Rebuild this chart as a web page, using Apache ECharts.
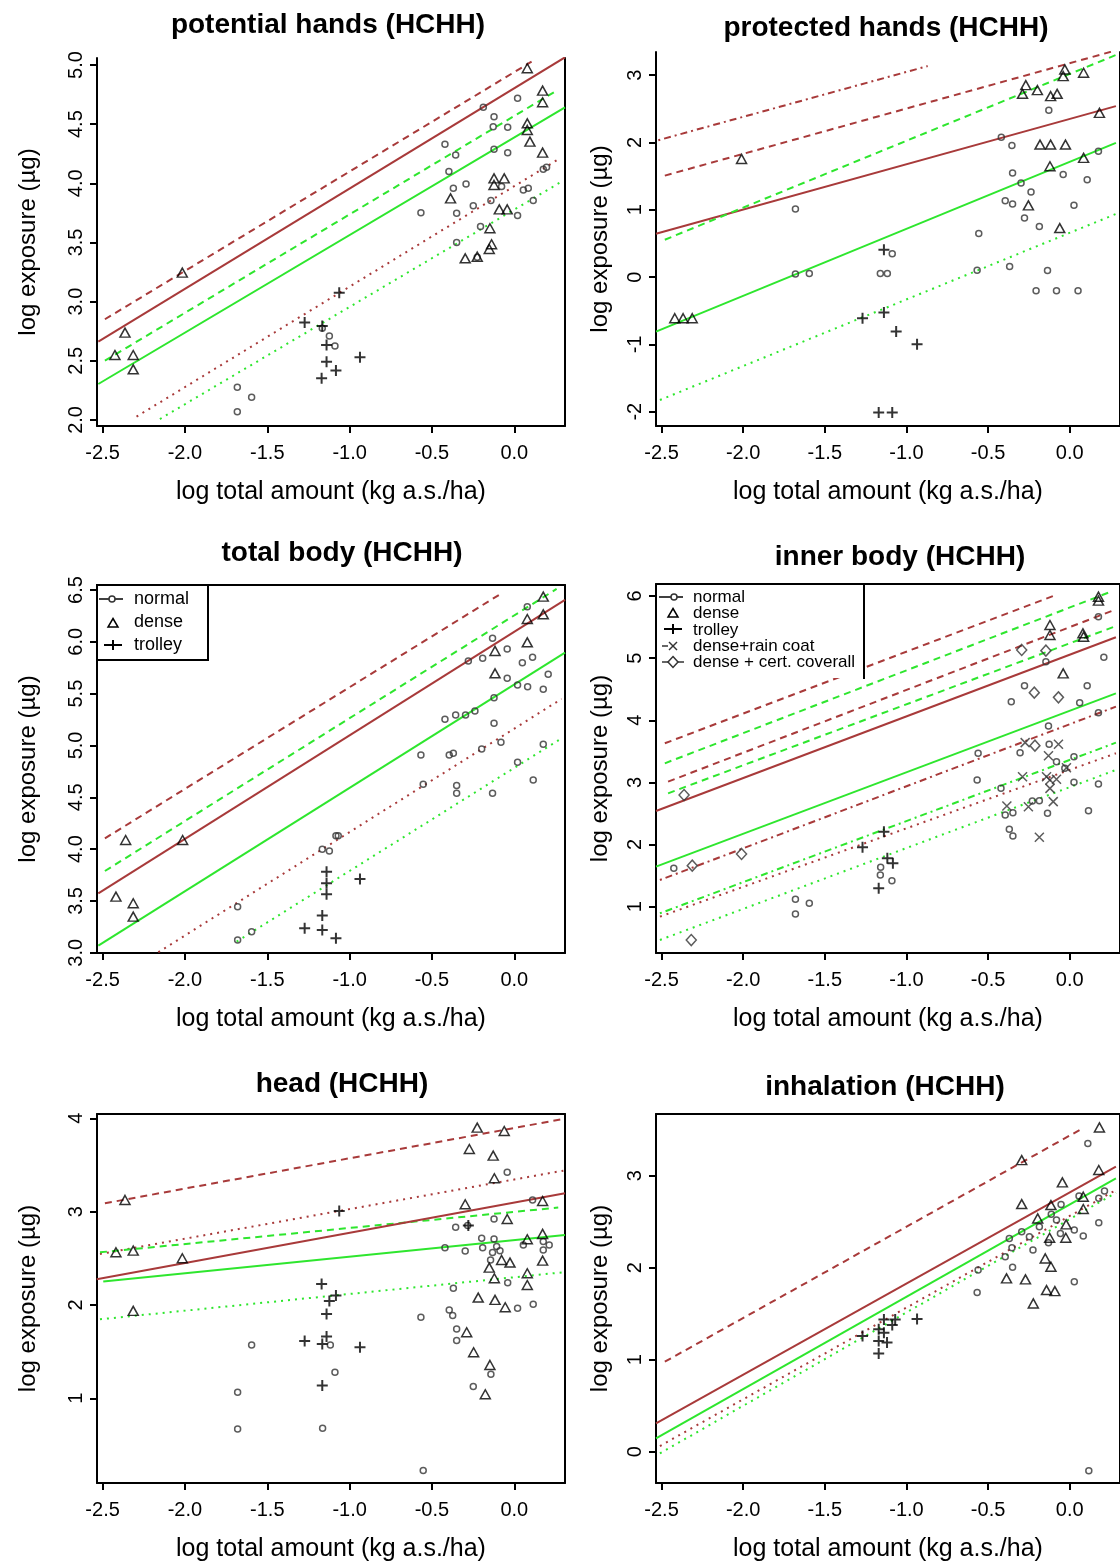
<!DOCTYPE html>
<html><head><meta charset="utf-8">
<script src="https://cdn.jsdelivr.net/npm/echarts@6/dist/echarts.min.js"></script>
<style>html,body{margin:0;padding:0;background:#fff}#c{width:1120px;height:1565px}</style>
</head><body><div id="c"></div><script>
// ---------- tick labels ----------
const xTicks = [-2.5, -2.0, -1.5, -1.0, -0.5, 0.0];
const potentialTicks = [2.0, 2.5, 3.0, 3.5, 4.0, 4.5, 5.0];
const protectedTicks = [-2, -1, 0, 1, 2, 3];
const totalTicks = [3.0, 3.5, 4.0, 4.5, 5.0, 5.5, 6.0, 6.5];
const innerTicks = [1, 2, 3, 4, 5, 6];
const headTicks = [1, 2, 3, 4];
const inhalTicks = [0, 1, 2, 3];

// ---------- potential hands ----------
const potentialNormal = [[-0.188,4.642],[-0.123,4.563],[0.020,4.718],[-0.128,4.479],[-0.040,4.473],[-0.421,4.330],[-0.356,4.239],[-0.123,4.287],[-0.040,4.259],[-0.397,4.099],[-0.370,3.958],[-0.293,3.994],[-0.077,3.972],[0.196,4.135],[0.176,4.118],[0.055,3.944],[0.085,3.958],[0.115,3.854],[-0.142,3.854],[-0.249,3.811],[-0.567,3.752],[-0.350,3.746],[0.020,3.727],[-0.205,3.634],[-0.350,3.499],[-0.225,3.375],[-1.682,2.276],[-1.595,2.192],[-1.682,2.070],[-1.123,2.710],[-1.089,2.625],[-1.166,2.775]];
const potentialDense = [[-2.016,3.245],[-2.364,2.738],[-2.425,2.549],[-2.314,2.549],[-2.314,2.428],[0.079,4.972],[0.172,4.783],[0.172,4.685],[0.079,4.507],[0.079,4.451],[0.095,4.352],[0.172,4.259],[-0.123,4.042],[-0.061,4.042],[-0.123,3.986],[-0.387,3.873],[-0.091,3.780],[-0.043,3.780],[-0.148,3.620],[-0.152,3.445],[-0.298,3.366],[-0.225,3.380],[-0.138,3.485]];
const potentialTrolley = [[-1.063,3.076],[-1.273,2.823],[-1.166,2.794],[-1.140,2.634],[-1.140,2.493],[-1.083,2.417],[-1.170,2.352],[-0.937,2.530]];
const potentialBrownFit = [[-2.526,2.662],[0.308,5.065]];
const potentialBrownUpper = [[-2.486,2.851],[0.105,5.028]];
const potentialBrownLower = [[-2.294,2.028],[0.277,4.211]];
const potentialGreenFit = [[-2.526,2.304],[0.308,4.642]];
const potentialGreenUpper = [[-2.486,2.501],[0.257,4.783]];
const potentialGreenLower = [[-2.152,2.008],[0.287,4.014]];

// ---------- protected hands ----------
const protectedNormal = [[-0.128,2.479],[-0.354,1.953],[-0.419,2.077],[-0.350,1.547],[0.176,1.869],[-0.040,1.522],[0.107,1.447],[-0.298,1.398],[-0.237,1.264],[-0.395,1.135],[-0.350,1.085],[0.026,1.065],[-0.277,0.877],[-0.186,0.753],[-0.557,0.649],[-0.567,0.103],[-0.368,0.158],[-0.136,0.098],[-0.206,-0.204],[-0.081,-0.204],[0.051,-0.204],[-1.680,1.011],[-1.680,0.044],[-1.595,0.054],[-1.160,0.054],[-1.117,0.054],[-1.087,0.346]];
const protectedDense = [[-2.419,-0.611],[-2.368,-0.611],[-2.312,-0.611],[-2.010,1.755],[-0.269,2.851],[-0.289,2.722],[-0.198,2.777],[-0.117,2.688],[-0.077,2.722],[-0.040,2.985],[-0.030,3.084],[0.085,3.035],[0.182,2.439],[-0.182,1.968],[-0.117,1.968],[-0.026,1.968],[-0.121,1.646],[0.085,1.770],[-0.061,0.728],[-0.253,1.065]];
const protectedTrolley = [[-1.138,0.406],[-1.269,-0.611],[-1.138,-0.527],[-1.063,-0.810],[-0.935,-0.998],[-1.170,-2.010],[-1.087,-2.010]];
const protectedBrownTop = [[-2.520,2.033],[-0.870,3.134]];
const protectedBrownUpper = [[-2.480,1.507],[0.283,3.367]];
const protectedBrownFit = [[-2.534,0.644],[0.283,2.539]];
const protectedGreenUpper = [[-2.480,0.555],[0.283,3.298]];
const protectedGreenFit = [[-2.534,-0.810],[0.283,1.993]];
const protectedGreenLower = [[-2.510,-1.826],[0.283,0.937]];

// ---------- total body ----------
const totalNormal = [[0.079,6.339],[-0.132,6.034],[-0.043,5.931],[-0.279,5.815],[-0.192,5.841],[0.049,5.799],[0.111,5.850],[-0.043,5.648],[0.020,5.584],[0.081,5.567],[0.176,5.542],[0.206,5.687],[-0.123,5.461],[-0.421,5.252],[-0.356,5.294],[-0.296,5.294],[-0.239,5.333],[-0.123,5.214],[-0.081,5.031],[-0.198,4.966],[-0.567,4.908],[-0.395,4.908],[-0.370,4.924],[0.176,5.011],[0.020,4.838],[-0.553,4.625],[-0.350,4.613],[-0.350,4.539],[-0.132,4.539],[0.115,4.667],[-1.680,3.445],[-1.595,3.204],[-1.680,3.124],[-1.069,4.130],[-1.083,4.130],[-1.166,3.998],[-1.123,3.982]];
const totalDense = [[-2.360,4.088],[-2.014,4.088],[-2.419,3.542],[-2.314,3.478],[-2.314,3.349],[0.176,6.436],[0.079,6.220],[0.176,6.265],[0.079,5.995],[-0.117,5.912],[-0.117,5.696]];
const totalTrolley = [[-1.140,3.783],[-1.140,3.670],[-1.140,3.564],[-0.937,3.712],[-1.166,3.359],[-1.273,3.236],[-1.166,3.220],[-1.083,3.140]];
const totalBrownUpper = [[-2.486,4.104],[-0.087,6.458]];
const totalGreenUpper = [[-2.486,3.789],[0.257,6.510]];
const totalBrownFit = [[-2.526,3.574],[0.308,6.404]];
const totalGreenFit = [[-2.526,3.069],[0.308,5.895]];
const totalBrownLower = [[-2.162,3.005],[0.287,5.449]];
const totalGreenLower = [[-1.686,3.108],[0.287,5.069]];

// ---------- inner body ----------
const innerNormal = [[0.176,5.667],[0.209,5.013],[-0.146,4.943],[-0.277,4.557],[-0.358,4.299],[0.107,4.557],[0.061,4.283],[0.176,4.122],[-0.130,3.908],[-0.126,3.613],[-0.304,3.479],[-0.561,3.468],[-0.081,3.334],[-0.030,3.226],[0.026,3.414],[-0.567,3.039],[0.026,3.001],[0.176,2.974],[-0.421,2.904],[-0.229,2.701],[-0.186,2.706],[-0.348,2.513],[-0.395,2.475],[-0.136,2.502],[0.115,2.545],[-0.370,2.245],[-0.348,2.137],[-2.425,1.617],[-1.680,1.118],[-1.595,1.054],[-1.680,0.882],[-1.158,1.633],[-1.160,1.510],[-1.089,1.418]];
const innerDense = [[0.176,5.989],[0.176,5.925],[-0.121,5.533],[-0.121,5.372],[0.081,5.399],[0.085,5.345],[-0.040,4.755]];
const innerTrolley = [[-1.138,2.207],[-1.269,1.955],[-1.117,1.778],[-1.083,1.697],[-1.170,1.295]];
const innerRainCoat = [[-0.273,3.640],[-0.069,3.613],[-0.130,3.430],[-0.289,3.092],[-0.142,3.092],[-0.121,3.039],[-0.081,3.049],[-0.020,3.237],[-0.121,2.904],[-0.385,2.620],[-0.253,2.609],[-0.101,2.690],[-0.186,2.116]];
const innerCoverall = [[-0.294,5.131],[-0.146,5.120],[-0.217,4.444],[-0.069,4.369],[-0.213,3.591],[-2.362,2.797],[-2.010,1.848],[-2.318,0.463],[-2.312,1.660]];
const innerBrownTop = [[-2.480,3.629],[-0.101,6.000]];
const innerGreenTop = [[-2.480,3.307],[0.253,6.070]];
const innerBrownUpper = [[-2.460,3.012],[0.273,5.775]];
const innerGreenUpper = [[-2.460,2.824],[0.273,5.506]];
const innerBrownFit = [[-2.534,2.540],[0.283,5.335]];
const innerGreenFit = [[-2.534,1.644],[0.283,4.433]];
const innerBrownLower = [[-2.510,1.429],[0.283,4.219]];
const innerGreenLower = [[-2.510,0.893],[0.283,3.639]];
const innerBrownBottom = [[-2.510,0.839],[0.283,3.468]];
const innerGreenBottom = [[-2.510,0.464],[0.283,3.200]];

// ---------- head ----------
const headNormal = [[-0.043,3.421],[0.111,3.125],[-0.123,2.921],[-0.356,2.832],[-0.283,2.850],[-0.198,2.714],[-0.123,2.707],[-0.107,2.625],[-0.087,2.582],[-0.298,2.579],[-0.421,2.614],[-0.192,2.614],[0.055,2.643],[0.176,2.679],[0.212,2.643],[0.176,2.589],[-0.132,2.561],[-0.040,2.239],[-0.370,2.179],[0.020,1.964],[0.115,2.007],[-0.567,1.868],[-0.395,1.946],[-0.374,1.886],[-0.350,1.743],[-0.350,1.618],[-0.142,1.257],[-0.249,1.125],[-1.595,1.571],[-1.117,1.571],[-1.089,1.279],[-1.680,1.064],[-1.680,0.671],[-1.164,0.679],[-0.553,0.225],[-0.144,2.482]];
const headDense = [[-2.364,3.125],[-2.419,2.564],[-2.314,2.582],[-2.016,2.500],[-2.314,1.936],[-0.225,3.900],[-0.061,3.864],[-0.273,3.671],[-0.128,3.600],[-0.121,3.357],[-0.298,3.079],[0.172,3.114],[-0.043,2.921],[0.079,2.704],[0.172,2.761],[-0.077,2.482],[-0.026,2.454],[0.172,2.475],[-0.152,2.400],[-0.121,2.286],[0.079,2.339],[0.079,2.214],[-0.219,2.079],[-0.117,2.054],[-0.055,1.975],[-0.289,1.707],[-0.247,1.493],[-0.148,1.357],[-0.176,1.043]];
const headTrolley = [[-1.063,3.007],[-1.170,2.225],[-1.083,2.100],[-1.123,2.043],[-1.140,1.904],[-1.140,1.661],[-1.273,1.614],[-1.166,1.582],[-0.937,1.546],[-1.166,1.136],[-0.279,2.850]];
const headBrownUpper = [[-2.486,3.089],[0.298,3.993]];
const headBrownMid = [[-2.516,2.546],[0.298,3.439]];
const headGreenUpper = [[-2.516,2.564],[0.267,3.043]];
const headBrownFit = [[-2.536,2.275],[0.308,3.196]];
const headGreenFit = [[-2.496,2.250],[0.308,2.750]];
const headGreenLower = [[-2.516,1.846],[0.298,2.350]];

// ---------- inhalation ----------
const inhalNormal = [[0.111,3.351],[0.178,2.754],[0.057,2.779],[-0.053,2.688],[0.213,2.833],[-0.113,2.580],[-0.081,2.518],[-0.186,2.446],[-0.247,2.337],[-0.294,2.391],[-0.370,2.319],[-0.354,2.217],[-0.225,2.192],[-0.395,2.120],[-0.350,2.004],[-0.561,1.975],[-0.567,1.732],[0.083,2.344],[0.028,2.409],[0.028,1.848],[0.178,2.489],[0.117,-0.207],[-0.130,2.272],[-0.057,2.373]];
const inhalDense = [[0.182,3.525],[-0.294,3.170],[0.178,3.062],[-0.045,2.928],[-0.294,2.692],[0.083,2.772],[-0.115,2.681],[-0.196,2.536],[-0.022,2.471],[-0.123,2.326],[-0.024,2.326],[-0.115,2.011],[-0.387,1.884],[-0.271,1.873],[-0.142,1.757],[-0.091,1.746],[-0.223,1.612],[0.083,2.638],[-0.150,2.101]];
const inhalTrolley = [[-1.269,1.257],[-1.170,1.330],[-1.138,1.438],[-1.069,1.438],[-1.087,1.377],[-1.138,1.293],[-1.170,1.203],[-1.119,1.188],[-1.170,1.069],[-0.935,1.442]];
const inhalBrownUpper = [[-2.480,0.978],[0.071,3.507]];
const inhalBrownFit = [[-2.534,0.308],[0.283,3.098]];
const inhalGreenFit = [[-2.534,0.145],[0.283,2.971]];
const inhalBrownLower = [[-2.510,0.062],[0.283,2.844]];
const inhalGreenLower = [[-2.510,-0.018],[0.283,2.815]];

// ---------- styling / layout ----------
const FONT = '"Liberation Sans", Arial, Helvetica, sans-serif';
const BROWN = '#A83A3A', GREEN = '#2EE62E';
const SOLID = 'solid', DASH = [7, 5], DOT = [2, 5], DASHDOT = [2, 4, 7, 4];
const XMIN = -2.534, XMAX = 0.308;

const MARK = {
  normal:  {symbol: 'circle', symbolSize: 6, itemStyle: {color: 'rgba(0,0,0,0)', borderColor: '#333', borderWidth: 1.5}},
  dense:   {symbol: 'triangle', symbolSize: [10, 9], itemStyle: {color: 'rgba(0,0,0,0)', borderColor: '#000', borderWidth: 1.5}},
  trolley: {symbol: 'path://M5 0L5 10M0 5L10 5', symbolSize: 11, itemStyle: {color: 'rgba(0,0,0,0)', borderColor: '#000', borderWidth: 2}},
  rain:    {symbol: 'path://M0 0L10 10M0 10L10 0', symbolSize: 9, itemStyle: {color: 'rgba(0,0,0,0)', borderColor: '#333', borderWidth: 1.5}},
  coverall:{symbol: 'diamond', symbolSize: [10, 11], itemStyle: {color: 'rgba(0,0,0,0)', borderColor: '#333', borderWidth: 1.5}}
};

const panels = [
  {title: 'potential hands (HCHH)', tx: 328, ty: 25, left: 97, top: 58, height: 368, ymin: 1.949, ymax: 5.059, ticks: potentialTicks, dec: 1, box: false, side: 'L',
   pts: [[potentialNormal, 'normal'], [potentialDense, 'dense'], [potentialTrolley, 'trolley']],
   lines: [[potentialBrownUpper, BROWN, DASH], [potentialBrownFit, BROWN, SOLID], [potentialBrownLower, BROWN, DOT],
           [potentialGreenUpper, GREEN, DASH], [potentialGreenFit, GREEN, SOLID], [potentialGreenLower, GREEN, DOT]]},
  {title: 'protected hands (HCHH)', tx: 886, ty: 28, left: 656, top: 52, height: 374, ymin: -2.212, ymax: 3.343, ticks: protectedTicks, dec: 0, box: false, side: 'R',
   pts: [[protectedNormal, 'normal'], [protectedDense, 'dense'], [protectedTrolley, 'trolley']],
   lines: [[protectedBrownTop, BROWN, DASHDOT], [protectedBrownUpper, BROWN, DASH], [protectedBrownFit, BROWN, SOLID],
           [protectedGreenUpper, GREEN, DASH], [protectedGreenFit, GREEN, SOLID], [protectedGreenLower, GREEN, DOT]]},
  {title: 'total body (HCHH)', tx: 342, ty: 553, left: 97, top: 585, height: 368, ymin: 2.998, ymax: 6.548, ticks: totalTicks, dec: 1, box: true, side: 'L',
   pts: [[totalNormal, 'normal'], [totalDense, 'dense'], [totalTrolley, 'trolley']],
   lines: [[totalBrownUpper, BROWN, DASH], [totalBrownFit, BROWN, SOLID], [totalBrownLower, BROWN, DOT],
           [totalGreenUpper, GREEN, DASH], [totalGreenFit, GREEN, SOLID], [totalGreenLower, GREEN, DOT]]},
  {title: 'inner body (HCHH)', tx: 900, ty: 557, left: 656, top: 584, height: 369, ymin: 0.254, ymax: 6.193, ticks: innerTicks, dec: 0, box: true, side: 'R',
   pts: [[innerNormal, 'normal'], [innerDense, 'dense'], [innerTrolley, 'trolley'], [innerRainCoat, 'rain'], [innerCoverall, 'coverall']],
   lines: [[innerBrownTop, BROWN, DASH], [innerGreenTop, GREEN, DASH], [innerBrownUpper, BROWN, DASH], [innerGreenUpper, GREEN, DASH],
           [innerBrownFit, BROWN, SOLID], [innerGreenFit, GREEN, SOLID], [innerBrownLower, BROWN, DASHDOT], [innerGreenLower, GREEN, DASHDOT],
           [innerBrownBottom, BROWN, DOT], [innerGreenBottom, GREEN, DOT]]},
  {title: 'head (HCHH)', tx: 342, ty: 1084, left: 97, top: 1114, height: 369, ymin: 0.092, ymax: 4.046, ticks: headTicks, dec: 0, box: true, side: 'L',
   pts: [[headNormal, 'normal'], [headDense, 'dense'], [headTrolley, 'trolley']],
   lines: [[headBrownUpper, BROWN, DASH], [headBrownMid, BROWN, DOT], [headGreenUpper, GREEN, DASH],
           [headBrownFit, BROWN, SOLID], [headGreenFit, GREEN, SOLID], [headGreenLower, GREEN, DOT]]},
  {title: 'inhalation (HCHH)', tx: 885, ty: 1087, left: 656, top: 1114, height: 369, ymin: -0.340, ymax: 3.671, ticks: inhalTicks, dec: 0, box: true, side: 'R',
   pts: [[inhalNormal, 'normal'], [inhalDense, 'dense'], [inhalTrolley, 'trolley']],
   lines: [[inhalBrownUpper, BROWN, DASH], [inhalBrownFit, BROWN, SOLID], [inhalGreenFit, GREEN, SOLID],
           [inhalBrownLower, BROWN, DOT], [inhalGreenLower, GREEN, DOT]]}
];

const grid = [], xAxis = [], yAxis = [], series = [], graphic = [];
const black = {color: '#000', width: 2};
panels.forEach((p, i) => {
  grid.push({left: p.left, top: p.top, width: 468, height: p.height});
  xAxis.push({type: 'value', gridIndex: i, min: XMIN, max: XMAX, position: 'bottom',
    axisLine: {show: true, onZero: false, lineStyle: black},
    axisTick: {show: true, length: 7, inside: false, customValues: xTicks, lineStyle: black},
    axisLabel: {show: true, customValues: xTicks, formatter: v => Number(v).toFixed(1), fontSize: 20, color: '#000', fontFamily: FONT, margin: 17},
    splitLine: {show: false},
    name: 'log total amount (kg a.s./ha)', nameLocation: 'middle', nameGap: 54,
    nameTextStyle: {fontSize: 25, color: '#000', fontFamily: FONT}});
  yAxis.push({type: 'value', gridIndex: i, min: p.ymin, max: p.ymax, position: 'left',
    axisLine: {show: true, onZero: false, lineStyle: black},
    axisTick: {show: true, length: 7, inside: false, customValues: p.ticks, lineStyle: black},
    axisLabel: {show: true, customValues: p.ticks, rotate: 90, formatter: v => Number(v).toFixed(p.dec), fontSize: 20, color: '#000', fontFamily: FONT, margin: 11},
    splitLine: {show: false},
    name: 'log exposure (\u00b5g)', nameLocation: 'middle', nameGap: p.side === 'L' ? 57 : 44, nameRotate: 90,
    nameTextStyle: {fontSize: 24, color: '#000', fontFamily: FONT}});
  p.pts.forEach(([data, kind]) => {
    series.push(Object.assign({type: 'scatter', xAxisIndex: i, yAxisIndex: i, data: data, silent: true, z: 4}, JSON.parse(JSON.stringify(MARK[kind]))));
  });
  p.lines.forEach(([data, color, type]) => {
    series.push({type: 'line', xAxisIndex: i, yAxisIndex: i, data: data, symbol: 'none', silent: true, clip: true, z: 3,
      lineStyle: {color: color, width: 2, type: type}});
  });
  graphic.push({type: 'text', x: p.tx, y: p.ty, z: 10,
    style: {text: p.title, fontSize: 28, fontWeight: 'bold', fontFamily: FONT, fill: '#000', align: 'center', verticalAlign: 'middle'}});
});
// box borders (right side for all, top for the lower four)
panels.forEach((p, i) => {
  yAxis.push({type: 'value', gridIndex: i, min: p.ymin, max: p.ymax, position: 'right',
    axisLine: {show: true, onZero: false, lineStyle: black}, axisTick: {show: false}, axisLabel: {show: false}, splitLine: {show: false}});
  if (p.box) {
    xAxis.push({type: 'value', gridIndex: i, min: XMIN, max: XMAX, position: 'top',
      axisLine: {show: true, onZero: false, lineStyle: black}, axisTick: {show: false}, axisLabel: {show: false}, splitLine: {show: false}});
  }
});

// ---------- legends ----------
function gText(t, x, y, size) {
  return {type: 'text', x: x, y: y, z: 12, style: {text: t, fontSize: size, fontFamily: FONT, fill: '#000', align: 'left', verticalAlign: 'middle'}};
}
function gLine(x1, y1, x2, y2, w, c) {
  return {type: 'line', z: 12, shape: {x1: x1, y1: y1, x2: x2, y2: y2}, style: {stroke: c || '#000', lineWidth: w || 1.5}};
}
function gCircle(cx, cy) { return {type: 'circle', z: 12, shape: {cx: cx, cy: cy, r: 3}, style: {fill: '#fff', stroke: '#333', lineWidth: 1.5}}; }
function gTri(cx, cy) { return {type: 'polygon', z: 12, shape: {points: [[cx, cy - 4.5], [cx + 5, cy + 4], [cx - 5, cy + 4]]}, style: {fill: 'none', stroke: '#000', lineWidth: 1.5}}; }
function gPlus(cx, cy, h) { return [gLine(cx - h, cy, cx + h, cy, 2), gLine(cx, cy - 5, cx, cy + 5, 2)]; }
function gX(cx, cy) { return [gLine(cx - 4, cy - 4, cx + 4, cy + 4, 1.5, '#333'), gLine(cx - 4, cy + 4, cx + 4, cy - 4, 1.5, '#333')]; }
function gDia(cx, cy) { return {type: 'polygon', z: 12, shape: {points: [[cx, cy - 5.5], [cx + 5, cy], [cx, cy + 5.5], [cx - 5, cy]]}, style: {fill: 'none', stroke: '#333', lineWidth: 1.5}}; }

// total body legend
graphic.push({type: 'rect', z: 11, shape: {x: 97, y: 585, width: 111, height: 75}, style: {fill: '#fff', stroke: '#000', lineWidth: 2}});
graphic.push(gLine(99, 599, 123, 599, 1.5, '#000'), gCircle(112, 599));
graphic.push(gTri(113, 623));
graphic.push(...gPlus(113, 645, 9));
graphic.push(gText('normal', 134, 599, 18), gText('dense', 134, 622, 18), gText('trolley', 134, 645, 18));

// inner body legend
graphic.push({type: 'rect', z: 11, shape: {x: 657, y: 585, width: 206, height: 93}, style: {fill: '#fff', stroke: 'none'}});
graphic.push(gLine(864, 584, 864, 679, 2, '#000'));
graphic.push(gLine(659, 597, 683, 597, 1.5, '#000'), gCircle(674, 597));
graphic.push(gTri(673, 613));
graphic.push(...gPlus(673, 629, 9));
graphic.push(gLine(662, 646, 668, 646, 1.5, '#333'), ...gX(673, 646));
graphic.push(gLine(662, 662, 668, 662, 1.5, '#333'), gLine(678, 662, 684, 662, 1.5, '#333'), gDia(673, 662));
graphic.push(gText('normal', 693, 597, 17), gText('dense', 693, 613, 17), gText('trolley', 693, 630, 17),
             gText('dense+rain coat', 693, 646, 17), gText('dense + cert. coverall', 693, 662, 17));

const chart = echarts.init(document.getElementById('c'), null, {renderer: 'canvas'});
chart.setOption({animation: false, backgroundColor: '#fff', textStyle: {fontFamily: FONT},
  grid: grid, xAxis: xAxis, yAxis: yAxis, series: series, graphic: graphic});
</script></body></html>
